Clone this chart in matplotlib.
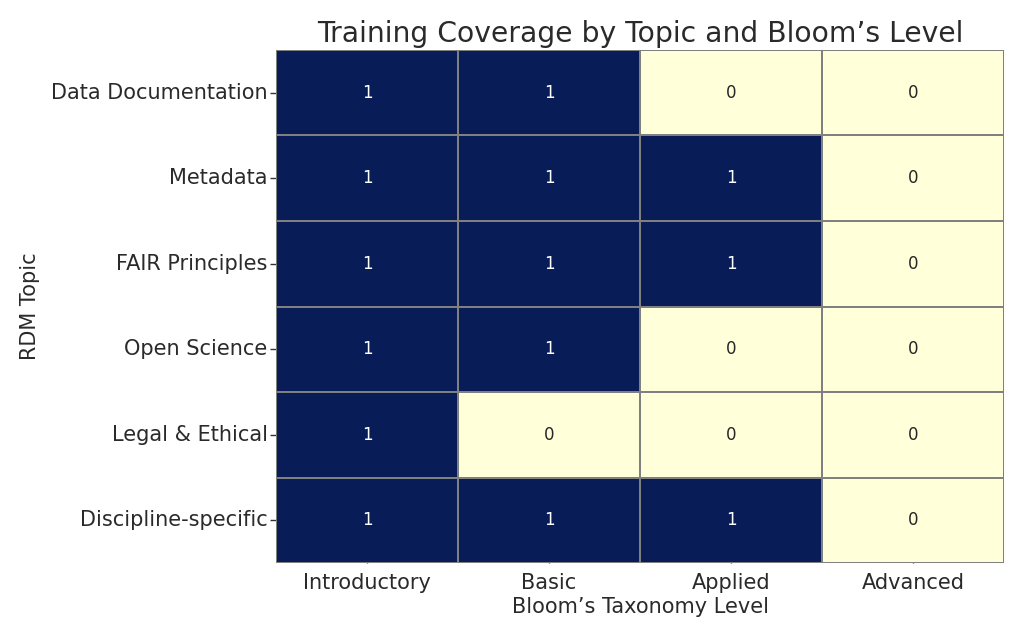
import matplotlib
matplotlib.use("Agg")
import matplotlib.pyplot as plt
import seaborn as sns
import numpy as np
import pandas as pd

topics = ["Data Documentation", "Metadata", "FAIR Principles", "Open Science",
          "Legal & Ethical", "Discipline-specific"]
levels = ["Introductory", "Basic", "Applied", "Advanced"]
coverage = [
    [1, 1, 0, 0],
    [1, 1, 1, 0],
    [1, 1, 1, 0],
    [1, 1, 0, 0],
    [1, 0, 0, 0],
    [1, 1, 1, 0],
]

df = pd.DataFrame(coverage, index=topics, columns=levels)

sns.set_style("white")
plt.rcParams['font.family'] = ['DejaVu Sans']

fig = plt.figure(figsize=(10.24, 6.4), dpi=100)
ax = fig.add_axes([0.2695, 0.12, 0.711, 0.802])
sns.heatmap(df, annot=True, cmap="YlGnBu", cbar=False, linewidths=1.2,
            linecolor="gray", annot_kws={"fontsize": 12}, ax=ax)

txt = "#2a2a2a"
ax.set_title("Training Coverage by Topic and Bloom\u2019s Level", fontsize=20.3, color=txt, pad=6)
ax.set_xlabel("Bloom\u2019s Taxonomy Level", fontsize=15, color=txt, labelpad=3)
ax.set_ylabel("RDM Topic", fontsize=15, color=txt, labelpad=8)
ax.tick_params(axis="x", bottom=True, labelsize=15, labelcolor=txt, direction="in",
               length=5, width=1, color="#333333", pad=7)
ax.tick_params(axis="y", left=True, labelsize=15, labelcolor=txt, length=4, width=1,
               color="#333333", rotation=0, pad=2)
for s in ax.spines.values():
    s.set_visible(False)

fig.savefig("out.png", dpi=100)
